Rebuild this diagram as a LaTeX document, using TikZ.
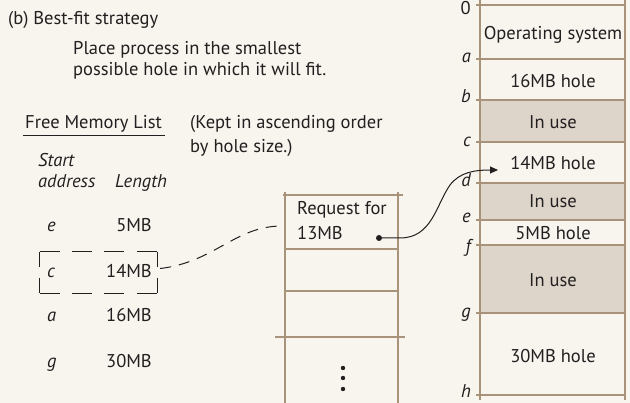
\documentclass[tikz,border=0pt]{standalone}
\usepackage{fontspec}
\setmainfont{PT Sans}
\usetikzlibrary{arrows.meta}
\definecolor{bg}{HTML}{F8F4EE}
\definecolor{ln}{HTML}{A8927A}
\definecolor{sh}{HTML}{DDD5CA}
\definecolor{tx}{HTML}{231F20}
\begin{document}
\begin{tikzpicture}[x=1pt,y=-1pt,
  every node/.style={text=tx, inner sep=0pt, font=\fontsize{18.5}{25}\selectfont},
  txt/.style={anchor=base west},
  rtxt/.style={anchor=base east},
  ctxt/.style={anchor=base},
  itx/.style={anchor=base west, font=\fontsize{18.5}{25}\selectfont\itshape},
  lab/.style={anchor=base east, font=\fontsize{18.5}{25}\selectfont\itshape},
  grid/.style={draw=ln, line width=1.3pt},
  shade/.style={fill=sh},
  dashbox/.style={draw=tx, line width=0.9pt},
  conn/.style={draw=tx, line width=1pt}]
\fill[bg] (0,0) rectangle (630,403);
\useasboundingbox (0,0) rectangle (630,403);

% headings
\node[txt] (title) at (8,25) {(b) Best-fit strategy};
\node[txt] (place1) at (73,55) {Place process in the smallest};
\node[txt] (place2) at (73,76) {possible hole in which it will fit.};
\node[txt] (fml) at (25,129) {Free Memory List};
\draw[tx, line width=0.8pt] (23,135) -- (165,135);
\node[txt] (kept1) at (190,129) {(Kept in ascending order};
\node[txt] (kept2) at (190,153) {by hole size.)};
\node[itx] (start) at (38,167) {Start};
\node[itx] (addr) at (38,188) {address};
\node[itx] (len) at (115,188) {Length};

% free list rows
\node[itx] (re) at (47,232) {e};
\node[rtxt] (le) at (152,232) {5MB};
\node[itx] (rc) at (47,278) {c};
\node[rtxt] (lc) at (152,278) {14MB};
\node[itx] (ra) at (47,322) {a};
\node[rtxt] (la) at (152,322) {16MB};
\node[itx] (rg) at (47,368) {g};
\node[rtxt] (lg) at (152,368) {30MB};

% dashed selection box
\node[minimum width=117pt, minimum height=41pt] (sel) at (98.5,272.5) {};
\draw[dashbox, dash pattern=on 20pt off 12.33pt] (sel.north west) -- (sel.north east);
\draw[dashbox, dash pattern=on 20pt off 12.33pt] (sel.south west) -- (sel.south east);
\draw[dashbox, dash pattern=on 15pt off 11pt] (sel.north west) -- (sel.south west);
\draw[dashbox, dash pattern=on 15pt off 11pt] (sel.north east) -- (sel.south east);

% request queue
\draw[grid] (285,192) -- (285,403);
\draw[grid] (398,192) -- (398,403);
\draw[grid] (283,195) -- (403,195);
\draw[grid] (285,249) -- (398,249);
\draw[grid] (285,291) -- (398,291);
\draw[grid] (275,337) -- (405,337);
\node[txt] (req) at (297,215) {Request for};
\node[txt] (req2) at (297,240) {13MB};
\coordinate (dot) at (379,238);
\fill[tx] (dot) circle (3pt);
\foreach \yy in {368,378,389} \fill[tx] (343,\yy) circle (2.2pt);

% memory map
\fill[shade] (480,100) rectangle (625,142);
\fill[shade] (480,183) rectangle (625,220);
\fill[shade] (480,245) rectangle (625,313);
\foreach \yy in {5,59,100,142,183,220,245,313,395}
  \draw[grid] (476,\yy) -- (625,\yy);
\draw[grid] (480,0) -- (480,400);
\draw[grid] (625,0) -- (625,400);

\node[ctxt] (os) at (553,40) {Operating system};
\node[ctxt] (h16) at (553,88) {16MB hole};
\node[ctxt] (u1) at (553,129) {In use};
\node[ctxt] (h14) at (553,170) {14MB hole};
\node[ctxt] (u2) at (553,208) {In use};
\node[ctxt] (h5) at (553,240) {5MB hole};
\node[ctxt] (u3) at (553,287) {In use};
\node[ctxt] (h30) at (553,363) {30MB hole};

\node[anchor=base east] (l0) at (471,15) {0};
\node[lab] (la2) at (471,63) {a};
\node[lab] (lb) at (471,103) {b};
\node[lab] (lc2) at (471,147) {c};
\node[lab] (ld) at (471,187) {d};
\node[lab] (le2) at (471,223) {e};
\node[lab] (lf) at (471,253) {f};
\node[lab] (lg2) at (471,318) {g};
\node[lab] (lh) at (471,397.5) {h};

% connectors
\draw[conn, dash pattern=on 11pt off 8pt] (sel.east) ++(3,-4) coordinate (dstart)
  .. controls (215,262) and (235,226) .. (282,226);
\coordinate (tip) at (498,170);
\draw[conn, -{Triangle[length=8pt,width=7pt]}] (dot) -- (400,238)
  .. controls (432,238) and (436,205) .. (450,185)
  .. controls (460,172) and (475,170) .. (tip);
\end{tikzpicture}
\end{document}
